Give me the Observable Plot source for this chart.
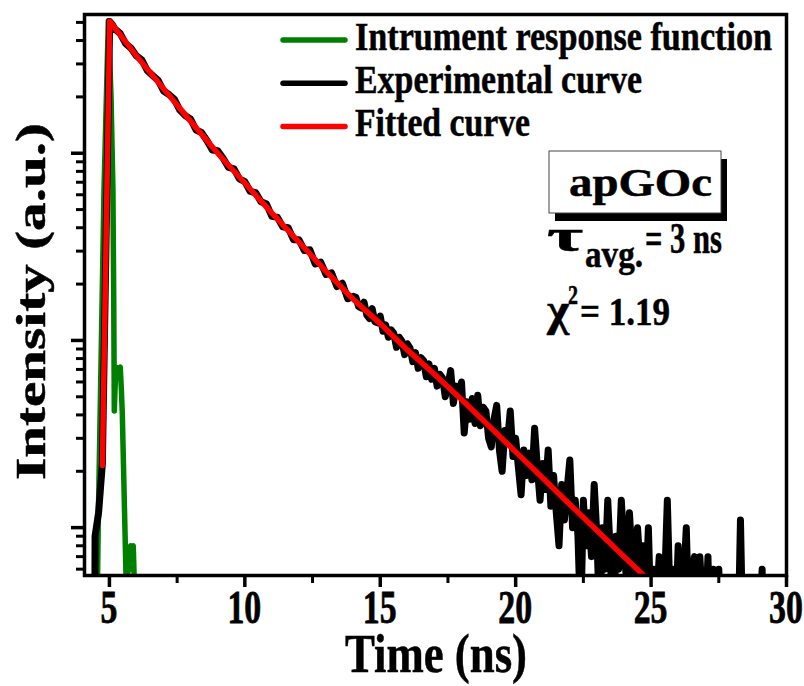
<!DOCTYPE html>
<html>
<head>
<meta charset="utf-8">
<script src="https://cdn.jsdelivr.net/npm/d3@7"></script>
<script src="https://cdn.jsdelivr.net/npm/@observablehq/plot@0.6"></script>
<style>
  html, body { margin: 0; padding: 0; background: #fff; }
</style>
</head>
<body>
<div id="chart"></div>
<script>
// ---------- data ----------
const xMajorTicks = [5, 10, 15, 20, 25, 30];
const xMinorTicks = [7.5, 12.5, 17.5, 22.5, 27.5];
const yMajorTicks = [10, 100, 1000];
const yMinorTicks = [6, 7, 8, 9, 20, 30, 40, 50, 60, 70, 80, 90, 200, 300, 400, 500, 600, 700, 800, 900, 2000, 3000, 4000, 5000];

// instrument response function (green)
const irfTime  = [4.40, 4.55, 4.59, 4.80, 4.96, 5.06, 5.13, 5.16, 5.18, 5.22, 5.26, 5.33, 5.40, 5.44, 5.475, 5.62, 5.70, 5.78, 5.84, 5.88, 5.94, 6.02];
const irfCount = [2, 4, 11, 630, 5100, 2000, 640, 160, 42, 62, 72, 70, 72, 55, 41, 5, 6, 8, 6, 8, 4, 2];

// experimental decay (black): rise + early decay
const expRiseTime  = [4.30, 4.46, 4.47, 4.60, 4.74, 5.01, 5.10];
const expRiseCount = [2, 3, 9, 12, 22, 5060, 4880];
const expDecayTime  = [5.2, 5.4, 5.6, 5.8, 6.0, 6.2, 6.4, 6.6, 6.8, 7.0, 7.2, 7.4, 7.6, 7.8, 8.0, 8.2, 8.4, 8.6, 8.8, 9.0,
                       9.2, 9.4, 9.6, 9.8, 10.0, 10.2, 10.4, 10.6, 10.8, 11.0, 11.2, 11.4, 11.6, 11.8, 12.0, 12.2, 12.4, 12.6, 12.8, 13.0,
                       13.2, 13.4, 13.6, 13.8, 14.0];
const expDecayCount = [4610, 4360, 3850, 3640, 3310, 3150, 2760, 2600, 2450, 2150, 2060, 1940, 1700, 1590, 1520, 1330, 1290, 1170, 1040, 1030,
                       940, 840, 825, 730, 705, 625, 615, 550, 535, 460, 455, 405, 400, 345, 345, 302, 305, 256, 262, 225,
                       230, 194, 202, 167, 172];
// experimental tail (black), 0.1 ns channels
const expTailTime = [14.1, 14.2, 14.3, 14.4, 14.5, 14.6, 14.7, 14.8, 14.9, 15.0,
  15.1, 15.2, 15.3, 15.4, 15.5, 15.6, 15.7, 15.8, 15.9, 16.0,
  16.1, 16.2, 16.3, 16.4, 16.5, 16.6, 16.7, 16.8, 16.9, 17.0,
  17.1, 17.2, 17.3, 17.4, 17.5, 17.6, 17.7, 17.8, 17.9, 18.0,
  18.1, 18.2, 18.3, 18.4, 18.5, 18.6, 18.7, 18.8, 18.9, 19.0,
  19.1, 19.2, 19.3, 19.4, 19.5, 19.6, 19.7, 19.8, 19.9, 20.0,
  20.1, 20.2, 20.3, 20.4, 20.5, 20.6, 20.7, 20.8, 20.9, 21.0,
  21.1, 21.2, 21.3, 21.4, 21.5, 21.6, 21.7, 21.8, 21.9, 22.0,
  22.1, 22.2, 22.3, 22.4, 22.5, 22.6, 22.7, 22.8, 22.9, 23.0,
  23.1, 23.2, 23.3, 23.4, 23.5, 23.6, 23.7, 23.8, 23.9, 24.0,
  24.1, 24.2, 24.3, 24.4, 24.5, 24.6, 24.7, 24.8, 24.9, 25.0,
  25.1, 25.2, 25.3, 25.4, 25.5, 25.6, 25.7, 25.8, 25.9, 26.0,
  26.1, 26.2, 26.3, 26.4, 26.5, 26.6, 26.7, 26.8, 26.9, 27.0,
  27.1, 27.2, 27.3, 27.4, 27.5, 27.6, 27.7, 27.8, 27.9, 28.0,
  28.1, 28.2, 28.3, 28.4, 28.5, 28.6, 28.7, 28.8, 28.9, 29.0,
  29.1, 29.2, 29.3, 29.4, 29.5, 29.6, 29.7, 29.8, 29.9, 30.0];
const expTailCount = [170, 152, 149, 160, 137, 131, 148, 126, 124, 135,
  112, 121, 104, 114, 109, 92, 104, 99, 84, 96,
  91, 77, 86, 71, 81, 78, 64, 75, 62, 71,
  57, 66, 63, 50, 58, 69, 46, 57, 52, 60,
  32, 47, 38, 49, 36, 51, 35, 44, 42, 30,
  27, 38, 45, 26, 20, 33, 29, 42, 24, 30,
  21, 15, 26, 19, 25, 18, 34, 21, 14, 22,
  16, 26, 13, 19, 12, 8, 17, 11, 16, 23,
  10, 14, 9, 3, 14, 8, 12, 7, 17, 9,
  3, 10, 6, 14, 7, 2, 9, 6, 14, 8,
  5, 12, 7, 4, 10, 6, 8, 4, 10, 3,
  6, 4, 7, 3, 5, 14, 4, 6, 3, 8,
  2, 5, 10, 3, 6, 7, 2, 7, 4, 3,
  7, 2, 6, 3, 6, 2, 4, 1, 3, 2,
  4, 2, 11, 2, 3, 1, 2, 4, 1, 2,
  6, 1, 3, 2, 1, 3, 2, 1, 2, 1];

// fitted curve (red)
const fitTime  = [4.74, 5.01, 6, 7, 8, 9, 10, 11, 12, 13, 14, 15, 16, 17, 18, 19, 20, 21, 22, 23, 24, 24.73, 25.0];
const fitCount = [21.5, 5070, 3310, 2210, 1480, 1000, 692, 479, 335, 234, 166, 123, 89, 66, 48.4, 35.1, 25.4, 18.4, 13.3, 9.66, 7.0, 5.55, 5.1];

const legendLabels = ["Intrument response function", "Experimental curve", "Fitted curve"];
const legendColors = ["#008000", "#000000", "#ff0000"];
const sampleLabel = "apGOc";
const xLabel = "Time (ns)";
const yLabel = "Intensity (a.u.)";

// ---------- build tables ----------
const toRows = (ts, vs) => ts.map((t, i) => ({t, v: vs[i]}));
const irf = toRows(irfTime, irfCount);
const expData = [...toRows(expRiseTime, expRiseCount), ...toRows(expDecayTime, expDecayCount), ...toRows(expTailTime, expTailCount)];
const fit = toRows(fitTime, fitCount);

const serif = "'Liberation Serif', 'Times New Roman', serif";

function decorations(index, scales, values, dims) {
  const g = d3.create("svg:g")
    .attr("font-family", serif)
    .attr("font-weight", "bold")
    .attr("fill", "#000");
  const txt = (s, x, y, size, len, anchor = "start") =>
    g.append("text")
      .attr("x", x).attr("y", y)
      .attr("font-size", size)
      .attr("text-anchor", anchor)
      .attr("textLength", len)
      .attr("lengthAdjust", "spacingAndGlyphs")
      .attr("stroke", "#000").attr("stroke-width", 0.5)
      .text(s);

  // x tick labels, placed with Plot's x scale (condensed like the reference)
  const bottom = dims.height - dims.marginBottom;
  xMajorTicks.forEach(v => {
    g.append("text")
      .attr("transform", `translate(${scales.x(v)},${bottom + 48}) scale(0.72,1)`)
      .attr("font-size", 47)
      .attr("text-anchor", "middle")
      .attr("stroke", "#000").attr("stroke-width", 0.8)
      .text(String(v));
  });

  // legend
  const legendLens = [417, 287, 175];
  legendLabels.forEach((label, i) => {
    const y = 40 + i * 43.2;
    g.append("line")
      .attr("x1", 283).attr("x2", 345).attr("y1", y).attr("y2", y)
      .attr("stroke", legendColors[i]).attr("stroke-width", 5.5).attr("stroke-linecap", "round");
    txt(label, 355, y + 9.5, 40, legendLens[i]);
  });

  // sample box with drop shadow
  g.append("rect").attr("x", 555).attr("y", 159).attr("width", 172).attr("height", 62).attr("fill", "#000");
  g.append("rect").attr("x", 549).attr("y", 151).attr("width", 172).attr("height", 62)
    .attr("fill", "#fff").attr("stroke", "#444").attr("stroke-width", 1);
  txt(sampleLabel, 569, 196, 40, 143);

  // tau average
  txt("τ", 547, 251, 46, 36);
  txt("avg.", 585, 267, 38, 58);
  txt("= 3 ns", 645, 253, 44, 77);

  // chi-square
  txt("χ", 547, 325, 46, 22);
  txt("2", 568, 304, 28, 10);
  txt("= 1.19", 580, 325, 40, 90);

  // axis titles
  txt(xLabel, 436, 672, 55, 182, "middle");
  g.append("text")
    .attr("transform", "translate(45,301.5) rotate(-90)")
    .attr("font-size", 42)
    .attr("text-anchor", "middle")
    .attr("textLength", 357)
    .attr("lengthAdjust", "spacingAndGlyphs")
    .attr("stroke", "#000").attr("stroke-width", 0.5)
    .text(yLabel);
  return g.node();
}

const chart = Plot.plot({
  width: 804,
  height: 686,
  marginLeft: 84,
  marginRight: 18,
  marginTop: 14,
  marginBottom: 111,
  style: {background: "#fff", fontFamily: serif, fontWeight: "bold", color: "#000"},
  x: {type: "linear", domain: [4.08, 30]},
  y: {type: "log", domain: [5.55, 5510]},
  marks: [
    Plot.line(irf, {x: "t", y: "v", stroke: "#008000", strokeWidth: 5.5, strokeLinejoin: "round", clip: true}),
    Plot.line(expData, {x: "t", y: "v", stroke: "#000", strokeWidth: 7, strokeLinejoin: "round", clip: true}),
    Plot.line(fit, {x: "t", y: "v", stroke: "#ff0000", strokeWidth: 5.5, strokeLinejoin: "round", clip: true}),
    Plot.frame({stroke: "#000", strokeWidth: 3.5}),
    Plot.axisX({ticks: xMajorTicks, tickSize: 12, tickFormat: () => "", strokeWidth: 3.5, label: null}),
    Plot.axisX({ticks: xMinorTicks, tickSize: 8, tickFormat: () => "", strokeWidth: 3, label: null}),
    Plot.axisY({ticks: yMajorTicks, tickSize: 13, tickFormat: () => "", strokeWidth: 3.5, label: null}),
    Plot.axisY({ticks: yMinorTicks, tickSize: 8, tickFormat: () => "", strokeWidth: 3, label: null}),
    decorations
  ]
});

document.getElementById("chart").append(chart);
</script>
</body>
</html>
